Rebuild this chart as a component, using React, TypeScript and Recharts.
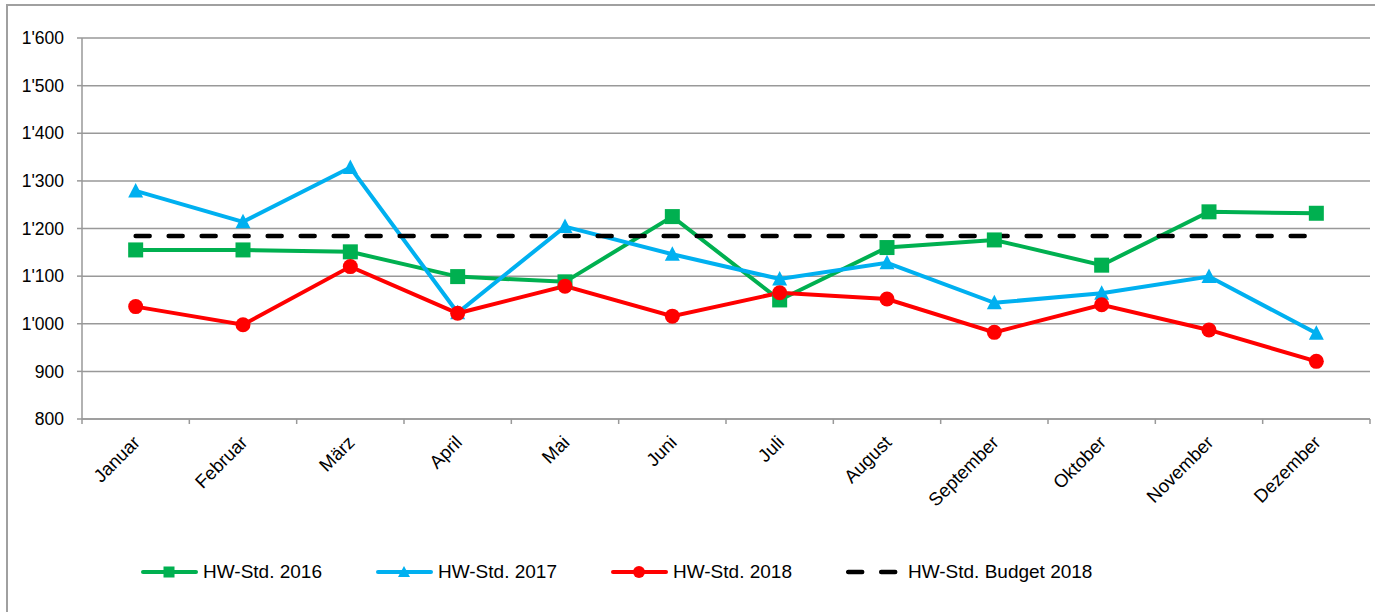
import React from 'react';
import { LineChart, Line, XAxis, YAxis, CartesianGrid, Legend } from 'recharts';

const months = ['Januar', 'Februar', 'März', 'April', 'Mai', 'Juni', 'Juli', 'August', 'September', 'Oktober', 'November', 'Dezember'];
const hw2016 = [1155, 1155, 1151, 1099, 1088, 1225, 1050, 1160, 1176, 1123, 1235, 1232];
const hw2017 = [1279, 1214, 1328, 1023, 1204, 1146, 1094, 1128, 1044, 1064, 1099, 980];
const hw2018 = [1036, 998, 1120, 1022, 1079, 1016, 1065, 1052, 982, 1040, 987, 921];
const budget2018 = [1184, 1184, 1184, 1184, 1184, 1184, 1184, 1184, 1184, 1184, 1184, 1184];
const yTicks = [800, 900, 1000, 1100, 1200, 1300, 1400, 1500, 1600];

const seriesNames = {
  s2016: 'HW-Std. 2016',
  s2017: 'HW-Std. 2017',
  s2018: 'HW-Std. 2018',
  budget: 'HW-Std. Budget 2018',
};

const data = months.map((m, i) => ({
  month: m,
  s2016: hw2016[i],
  s2017: hw2017[i],
  s2018: hw2018[i],
  budget: budget2018[i],
}));

const GREEN = '#00B050';
const BLUE = '#00B0F0';
const RED = '#FF0000';
const AXIS = '#999';
const FONT = '"Liberation Sans", Arial, sans-serif';

const fmt = (v: number) => {
  const s = String(v);
  return s.length > 3 ? s.slice(0, s.length - 3) + "'" + s.slice(s.length - 3) : s;
};

const SquareDot = (props: any) => {
  const { cx, cy, index } = props;
  if (cx == null || cy == null) return null;
  return <rect key={`sq${index}`} x={cx - 7.5} y={cy - 7.5} width={15} height={15} fill={GREEN} />;
};
const TriDot = (props: any) => {
  const { cx, cy, index } = props;
  if (cx == null || cy == null) return null;
  return <path key={`tr${index}`} d={`M${cx},${cy - 8} L${cx + 7.5},${cy + 6.5} L${cx - 7.5},${cy + 6.5} Z`} fill={BLUE} />;
};
const CircDot = (props: any) => {
  const { cx, cy, index } = props;
  if (cx == null || cy == null) return null;
  return <circle key={`ci${index}`} cx={cx} cy={cy} r={7.5} fill={RED} />;
};

const XTick = (props: any) => {
  const { x, y, payload, index } = props;
  const half = payload && typeof payload.offset === 'number' ? payload.offset : 0;
  const ax = x + 1;
  const ay = y + 12;
  return (
    <g>
      {half > 0 && <line x1={x - half} y1={y - 8} x2={x - half} y2={y - 3} stroke={AXIS} strokeWidth={1.5} />}
      {half > 0 && index === months.length - 1 && (
        <line x1={x + half} y1={y - 8} x2={x + half} y2={y - 3} stroke={AXIS} strokeWidth={1.5} />
      )}
      <text
        x={ax}
        y={ay}
        dy="0.35em"
        textAnchor="end"
        transform={`rotate(-45, ${ax}, ${ay})`}
        fontSize={18.5}
        fontFamily={FONT}
        fill="#000"
      >
        {payload.value}
      </text>
    </g>
  );
};

const legendOrder = ['s2016', 's2017', 's2018', 'budget'];

const LegendIcon = ({ k }: { k: string }) => {
  if (k === 'budget') {
    return (
      <svg width={57} height={16} style={{ display: 'block' }}>
        <line x1={2.2} y1={8} x2={57} y2={8} stroke="#000" strokeWidth={4.5} strokeDasharray="14 19" strokeLinecap="round" />
      </svg>
    );
  }
  const color = k === 's2016' ? GREEN : k === 's2017' ? BLUE : RED;
  return (
    <svg width={57} height={16} style={{ display: 'block' }}>
      <line x1={2} y1={8} x2={55} y2={8} stroke={color} strokeWidth={4} strokeLinecap="round" />
      {k === 's2016' && <rect x={22.5} y={2.5} width={11} height={11} fill={color} />}
      {k === 's2017' && <path d="M28,2 L34,13 L22,13 Z" fill={color} />}
      {k === 's2018' && <circle cx={28} cy={8} r={6} fill={color} />}
    </svg>
  );
};

const LegendContent = () => (
  <div style={{ display: 'flex', alignItems: 'center', height: 40, paddingLeft: 141, fontFamily: FONT, fontSize: 19, color: '#000' }}>
    {legendOrder.map((k, i) => (
      <div key={k} style={{ display: 'flex', alignItems: 'center', marginLeft: i === 0 ? 0 : 54 }}>
        <LegendIcon k={k} />
        <span style={{ marginLeft: 5, whiteSpace: 'nowrap' }}>{(seriesNames as any)[k]}</span>
      </div>
    ))}
  </div>
);

export default function App() {
  return (
    <div style={{ position: 'absolute', left: 0, top: 0, width: 1375, height: 612, overflow: 'hidden', background: '#fff' }}>
      <div style={{ position: 'absolute', left: 6, top: 4, width: 1380, height: 620, border: '2px solid #a0a0a0', boxSizing: 'border-box' }} />
      <div style={{ position: 'absolute', left: 0, top: 0 }}>
        <LineChart width={1375} height={612} data={data} margin={{ top: 38, right: 5, left: 22, bottom: 0 }}>
          <CartesianGrid vertical={false} stroke={AXIS} strokeWidth={1.5} />
          <XAxis
            dataKey="month"
            scale="band"
            height={193}
            interval={0}
            tick={<XTick />}
            tickLine={false}
            tickSize={8}
            tickMargin={0}
            axisLine={{ stroke: AXIS, strokeWidth: 1.5 }}
          />
          <YAxis
            domain={[800, 1600]}
            ticks={yTicks}
            width={60}
            tickFormatter={fmt}
            tickSize={5}
            tickMargin={13}
            tickLine={{ stroke: AXIS, strokeWidth: 1.5 }}
            axisLine={{ stroke: AXIS, strokeWidth: 1.5 }}
            tick={{ fill: '#000', fontSize: 17.5, fontFamily: FONT }}
            interval={0}
          />
          <Line dataKey="s2016" name={seriesNames.s2016} stroke={GREEN} strokeWidth={4} dot={SquareDot} activeDot={false} isAnimationActive={false} />
          <Line dataKey="s2017" name={seriesNames.s2017} stroke={BLUE} strokeWidth={4} dot={TriDot} activeDot={false} isAnimationActive={false} />
          <Line dataKey="s2018" name={seriesNames.s2018} stroke={RED} strokeWidth={4} dot={CircDot} activeDot={false} isAnimationActive={false} />
          <Line dataKey="budget" name={seriesNames.budget} stroke="#000" strokeWidth={4.5} strokeDasharray="14 19" strokeLinecap="round" dot={false} activeDot={false} isAnimationActive={false} />
          <Legend
            layout="vertical"
            align="center"
            verticalAlign="middle"
            wrapperStyle={{ position: 'absolute', left: 0, top: 552, width: 1375, height: 40 }}
            content={<LegendContent />}
          />
        </LineChart>
      </div>
    </div>
  );
}
